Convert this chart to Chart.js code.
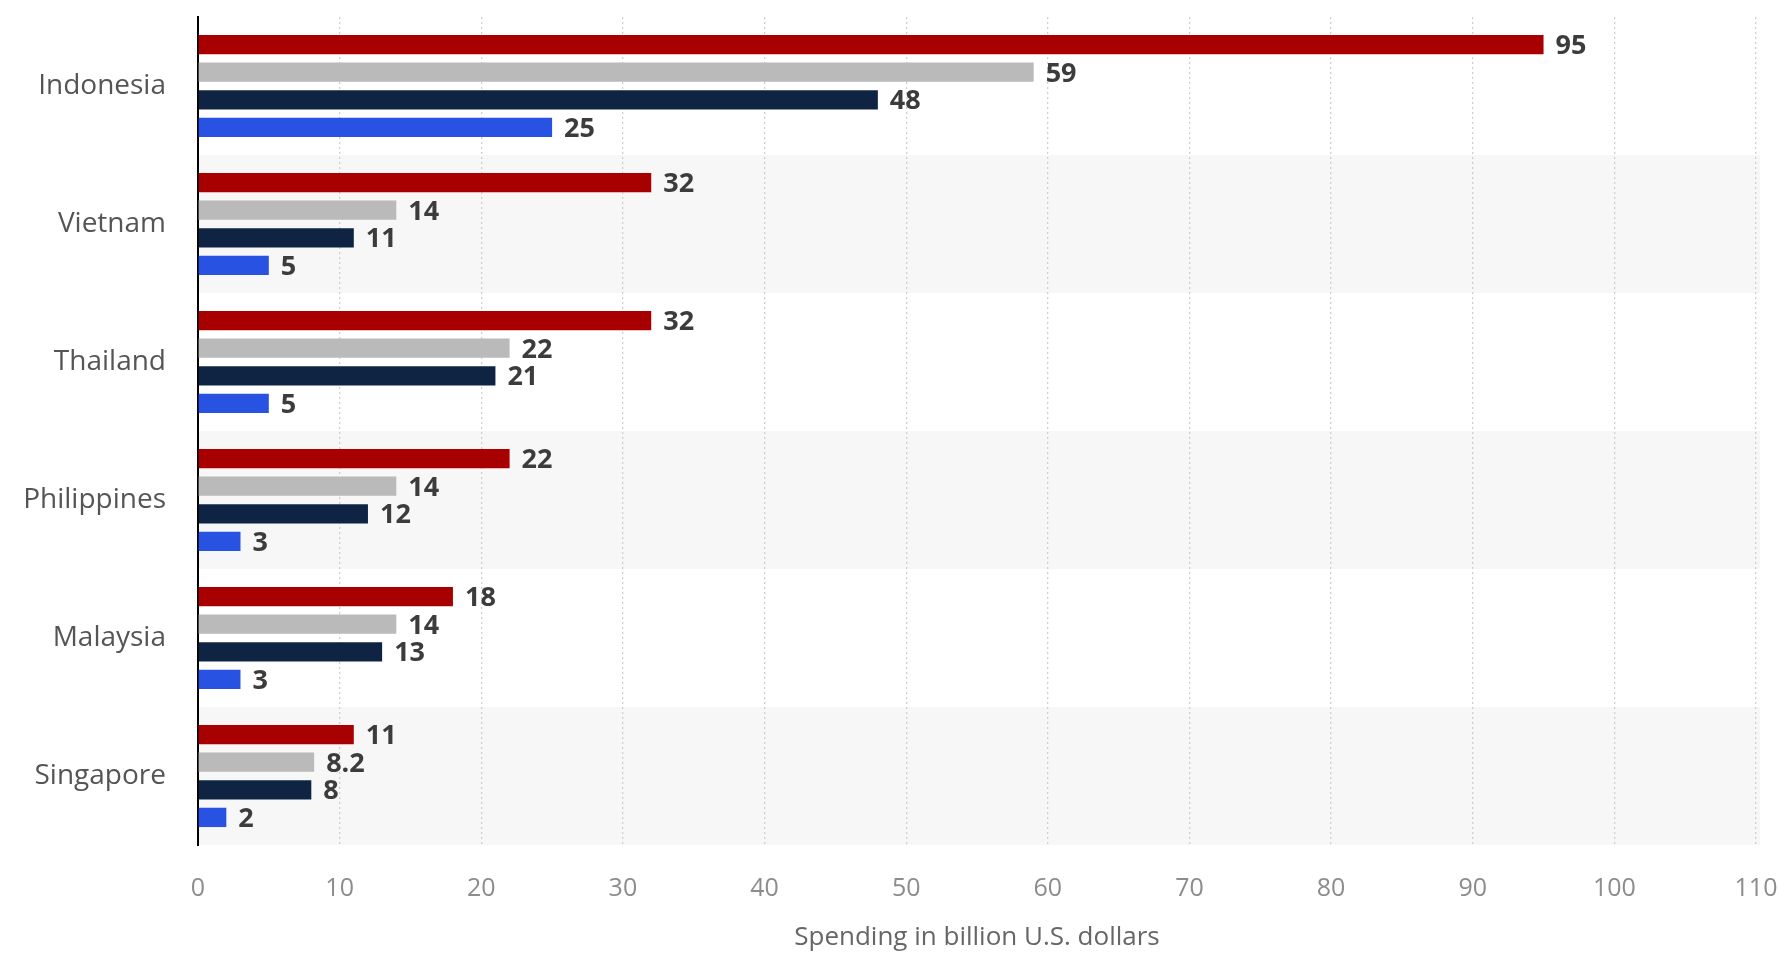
<!DOCTYPE html>
<html>
<head>
<meta charset="utf-8">
<script src="https://cdn.jsdelivr.net/npm/chart.js@4/dist/chart.umd.min.js"></script>
<style>
    html, body { margin: 0; padding: 0; background: #fff; }
    #wrap { width: 1779px; height: 953px; position: relative; }
</style>
</head>
<body>
<div id="wrap"><canvas id="chart"></canvas></div>
<script>
const CATEGORIES = ['Indonesia', 'Vietnam', 'Thailand', 'Philippines', 'Malaysia', 'Singapore'];
const SERIES_RED = [95, 32, 32, 22, 18, 11];
const SERIES_GRAY = [59, 14, 22, 14, 14, 8.2];
const SERIES_NAVY = [48, 11, 21, 12, 13, 8];
const SERIES_BLUE = [25, 5, 5, 3, 3, 2];
const X_MAX = 110;
const X_STEP = 10;
const AXIS_TITLE = 'Spending in billion U.S. dollars';

const COLORS = {
    red: '#a80000',
    gray: '#bababa',
    navy: '#0f2442',
    blue: '#2852e2',
    band: '#f7f7f7',
    grid: '#cfcfcf',
    tick: '#8c8c8c',
    label: '#555555',
    value: '#3c3c3c',
};

const FONT = '"Open Sans", "Noto Sans", sans-serif';

// shade every other category row
const bandPlugin = {
    id: 'bands',
    beforeDraw(chart) {
        const { ctx, chartArea, scales } = chart;
        const y = scales.y;
        const step = Math.abs(y.getPixelForValue(1) - y.getPixelForValue(0));
        ctx.save();
        ctx.fillStyle = COLORS.band;
        CATEGORIES.forEach((c, i) => {
            if (i % 2 === 1) {
                const mid = y.getPixelForValue(i);
                ctx.fillRect(chartArea.left, mid - step / 2, chartArea.right - chartArea.left + 4, step);
            }
        });
        ctx.restore();
    },
};

const valueLabelPlugin = {
    id: 'valueLabels',
    afterDatasetsDraw(chart) {
        const { ctx } = chart;
        ctx.save();
        ctx.font = `bold 27px ${FONT}`;
        ctx.fillStyle = COLORS.value;
        ctx.textAlign = 'left';
        ctx.textBaseline = 'middle';
        chart.data.datasets.forEach((ds, di) => {
            const meta = chart.getDatasetMeta(di);
            meta.data.forEach((el, i) => {
                ctx.fillText(String(ds.data[i]), el.x + 12, el.y + 2);
            });
        });
        ctx.restore();
    },
};

function makeSet(label, data, color) {
    return {
        label,
        data,
        backgroundColor: color,
        borderWidth: 0,
        categoryPercentage: 0.8,
        barPercentage: 0.7,
    };
}

new Chart(document.getElementById('chart'), {
    type: 'bar',
    data: {
        labels: CATEGORIES,
        datasets: [
            makeSet('Series 1', SERIES_RED, COLORS.red),
            makeSet('Series 2', SERIES_GRAY, COLORS.gray),
            makeSet('Series 3', SERIES_NAVY, COLORS.navy),
            makeSet('Series 4', SERIES_BLUE, COLORS.blue),
        ],
    },
    options: {
        responsive: true,
        maintainAspectRatio: false,
        animation: false,
        indexAxis: 'y',
        layout: { padding: { top: 17, left: 0, right: 23, bottom: 0 } },
        plugins: {
            legend: { display: false },
            tooltip: { enabled: false },
        },
        scales: {
            x: {
                min: 0,
                max: X_MAX,
                ticks: {
                    stepSize: X_STEP,
                    color: COLORS.tick,
                    font: { family: FONT, size: 25 },
                    padding: 29,
                },
                grid: {
                    color: COLORS.grid,
                    lineWidth: 1.3,
                    drawTicks: false,
                },
                border: { display: false, dash: [2, 3] },
                title: {
                    display: true,
                    text: AXIS_TITLE,
                    color: '#666666',
                    font: { family: FONT, size: 26 },
                    padding: { top: 0, bottom: 0 },
                },
                afterFit(scale) {
                    scale.height = 108;
                    scale.paddingLeft = 0;
                    scale.paddingRight = 0;
                },
            },
            y: {
                ticks: {
                    color: COLORS.label,
                    font: { family: FONT, size: 28 },
                    padding: 32,
                },
                grid: { display: false, drawTicks: false },
                border: { display: true, color: '#000000', width: 2 },
                afterFit(scale) {
                    scale.width = 198;
                    scale.paddingTop = 0;
                    scale.paddingBottom = 0;
                },
            },
        },
    },
    plugins: [bandPlugin, valueLabelPlugin],
});
</script>
</body>
</html>
